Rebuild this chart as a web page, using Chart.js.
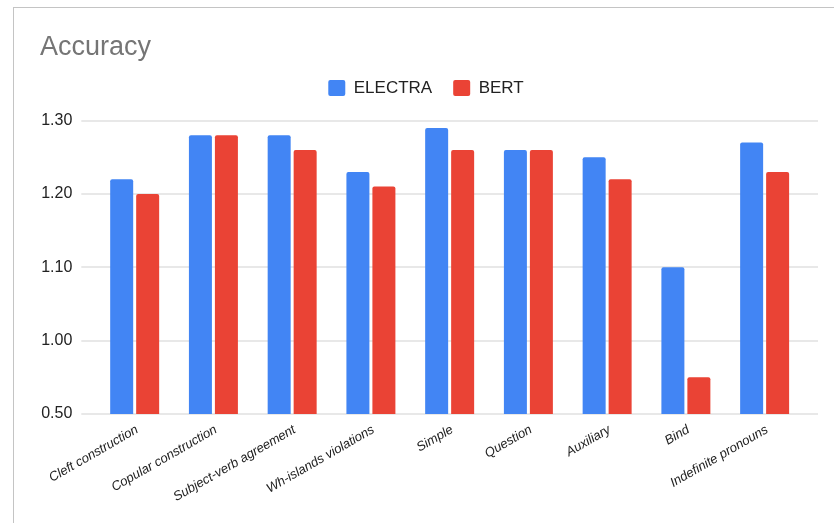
<!DOCTYPE html>
<html>
<head>
<meta charset="utf-8">
<script src="https://cdn.jsdelivr.net/npm/chart.js@4"></script>
<style>
  html, body { margin: 0; padding: 0; background: #fff; }
  #wrap { position: relative; width: 834px; height: 523px; overflow: hidden; }
  #frame { position: absolute; left: 13px; top: 7px; right: -2px; bottom: -2px;
           border-top: 1px solid #c4c4c4; border-left: 1px solid #c4c4c4; pointer-events: none; }
  canvas { position: absolute; left: 0; top: 0; }
</style>
</head>
<body>
<div id="wrap">
  <canvas id="c" width="834" height="523"></canvas>
  <div id="frame"></div>
</div>
<script>
const chartTitle = 'Accuracy';
const categories = ['Cleft construction', 'Copular construction', 'Subject-verb agreement',
  'Wh-islands violations', 'Simple', 'Question', 'Auxiliary', 'Bind', 'Indefinite pronouns'];
const seriesNames = ['ELECTRA', 'BERT'];
const electraValues = [1.22, 1.28, 1.28, 1.23, 1.29, 1.26, 1.25, 1.10, 1.27];
const bertValues = [1.20, 1.28, 1.26, 1.21, 1.26, 1.26, 1.22, 0.95, 1.23];
const yTickValues = [0.9, 1.0, 1.1, 1.2, 1.3];
const yTickLabels = ['0.50', '1.00', '1.10', '1.20', '1.30'];

const FONT = "Arial, 'Liberation Sans', sans-serif";

const gridPlugin = {
  id: 'extendedGrid',
  beforeDatasetsDraw(chart) {
    const { ctx, chartArea, scales } = chart;
    ctx.save();
    ctx.strokeStyle = '#e0e0e0';
    ctx.lineWidth = 1.5;
    yTickValues.forEach(v => {
      const y = Math.round(scales.y.getPixelForValue(v));
      ctx.beginPath();
      ctx.moveTo(chartArea.left - 14, y);
      ctx.lineTo(chartArea.right + 14, y);
      ctx.stroke();
    });
    ctx.restore();
  }
};

const legendTweak = {
  id: 'legendTweak',
  beforeLayout(chart) {
    const lg = chart.legend;
    if (lg && !lg._patched) {
      const orig = lg.fit;
      lg.fit = function () { orig.call(this); this.height += 14; };
      lg._patched = true;
    }
  },
  afterLayout(chart) {
    const lg = chart.legend;
    if (lg) { lg.left += 4; lg.right += 4; }
  }
};

new Chart(document.getElementById('c'), {
  type: 'bar',
  data: {
    labels: categories,
    datasets: [
      { label: seriesNames[0], data: electraValues, backgroundColor: '#4285F4',
        borderRadius: { topLeft: 2, topRight: 2 }, borderSkipped: 'start' },
      { label: seriesNames[1], data: bertValues, backgroundColor: '#EA4335',
        borderRadius: { topLeft: 2, topRight: 2 }, borderSkipped: 'start' }
    ]
  },
  options: {
    responsive: false,
    animation: false,
    devicePixelRatio: 1,
    datasets: { bar: { categoryPercentage: 0.66, barPercentage: 0.885 } },
    layout: { padding: { left: 40, right: 30, top: 0, bottom: 0 } },
    plugins: {
      tooltip: { enabled: false },
      title: {
        display: true, text: chartTitle, align: 'start', color: '#757575',
        font: { family: FONT, size: 27, weight: 'normal', lineHeight: 0.8 },
        padding: { top: 37, bottom: 0 }
      },
      legend: {
        display: true, position: 'top', align: 'center',
        labels: {
          color: '#222', boxWidth: 17, boxHeight: 16, padding: 21,
          useBorderRadius: true, borderRadius: 2,
          font: { family: FONT, size: 17 }
        }
      }
    },
    scales: {
      x: {
        grid: { display: false, drawTicks: false },
        border: { display: false },
        ticks: {
          autoSkip: false, minRotation: 30, maxRotation: 30, padding: 8, labelOffset: 2.5,
          color: '#222', font: { family: FONT, size: 13, style: 'italic' }
        },
        afterFit(scale) { scale.height = 109; scale.paddingLeft = 0; scale.paddingRight = 0; }
      },
      y: {
        min: 0.9, max: 1.3,
        grid: { display: false, drawTicks: false },
        border: { display: false },
        afterBuildTicks(scale) { scale.ticks = yTickValues.map(v => ({ value: v })); },
        ticks: {
          padding: 23, color: '#222', font: { family: FONT, size: 16 },
          callback(value) {
            const i = yTickValues.findIndex(t => Math.abs(t - value) < 1e-9);
            return i >= 0 ? yTickLabels[i] : '';
          }
        },
        afterFit(scale) { scale.width = 55.3; }
      }
    }
  },
  plugins: [gridPlugin, legendTweak]
});
</script>
</body>
</html>
